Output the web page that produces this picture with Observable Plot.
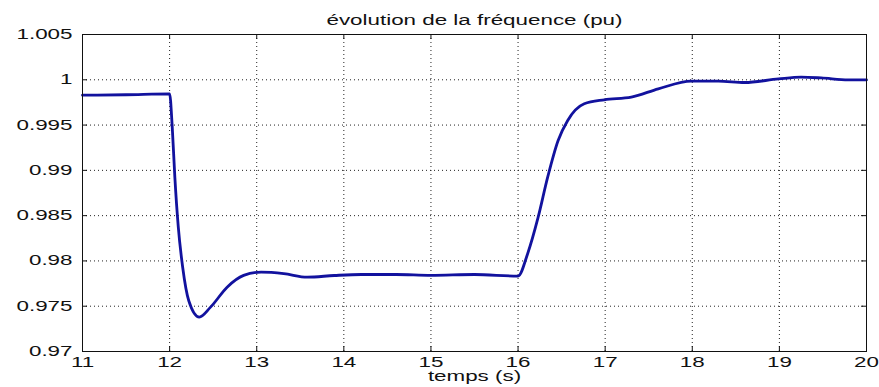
<!DOCTYPE html>
<html><head><meta charset="utf-8">
<script src="https://cdn.jsdelivr.net/npm/d3@7"></script>
<script src="https://cdn.jsdelivr.net/npm/@observablehq/plot@0.6"></script>
<style>body{margin:0;background:#fff} svg{display:block}</style>
</head><body><div id="chart"></div>
<script>
const title = "évolution de la fréquence (pu)";
const xLabel = "temps (s)";
const xTicks = [11, 12, 13, 14, 15, 16, 17, 18, 19, 20];
const xTickLabels = ["11", "12", "13", "14", "15", "16", "17", "18", "19", "20"];
const yTicks = [0.97, 0.975, 0.98, 0.985, 0.99, 0.995, 1, 1.005];
const yTickLabels = ["0.97", "0.975", "0.98", "0.985", "0.99", "0.995", "1", "1.005"];
const time = [11, 11.5, 12.0, 12.03, 12.06, 12.1, 12.15, 12.22, 12.34, 12.47, 12.66, 12.85, 13.05, 13.31, 13.58, 13.89, 14.2, 14.6, 15.0, 15.5, 16.0, 16.11, 16.23, 16.34, 16.46, 16.57, 16.76, 16.99, 17.3, 17.61, 17.99, 18.3, 18.6, 18.99, 19.25, 19.48, 19.79, 20];
const freq = [0.9983, 0.99835, 0.99845, 0.9948, 0.98925, 0.9837, 0.9793, 0.9756, 0.9738, 0.9749, 0.9771, 0.9784, 0.97876, 0.9786, 0.97821, 0.97839, 0.9785, 0.9785, 0.9784, 0.9785, 0.97833, 0.9808, 0.9848, 0.98925, 0.9933, 0.99551, 0.99735, 0.99779, 0.99808, 0.9990, 0.99985, 0.99985, 0.9997, 1.0001, 1.00029, 1.0002, 0.99999, 0.99999];
const data = time.map((t, i) => ({t, f: freq[i]}));

const W = 879, H = 387, mL = 82, mR = 13, mT = 34, mB = 36;
const fw = W - mL - mR, fh = H - mT - mB, tk = 5;
const xLab = new Map(xTicks.map((d, i) => [d, xTickLabels[i]]));
const yLab = new Map(yTicks.map((d, i) => [d, yTickLabels[i]]));

const chart = Plot.plot({
  width: W, height: H, marginLeft: mL, marginRight: mR, marginTop: mT, marginBottom: mB,
  style: {fontFamily: "'Liberation Sans', Arial, sans-serif", fontSize: "14px", color: "#111", background: "#fff"},
  x: {domain: [11, 20]},
  y: {domain: [0.97, 1.005]},
  marks: [
    Plot.gridX({ticks: xTicks.slice(1, -1), stroke: "#222", strokeOpacity: 1, strokeDasharray: "1,3"}),
    Plot.gridY({ticks: yTicks.slice(1, -1), stroke: "#222", strokeOpacity: 1, strokeDasharray: "1,3"}),
    Plot.tickX(xTicks, {x: d => d, insetTop: fh - tk, stroke: "#111"}),
    Plot.tickX(xTicks, {x: d => d, insetBottom: fh - tk, stroke: "#111"}),
    Plot.tickY(yTicks, {y: d => d, insetRight: fw - tk, stroke: "#111"}),
    Plot.tickY(yTicks, {y: d => d, insetLeft: fw - tk, stroke: "#111"}),
    Plot.line(data, {x: "t", y: "f", stroke: "#12129e", strokeWidth: 2.8, curve: "monotone-x"}),
    Plot.frame({stroke: "#111"}),
    Plot.axisX({ticks: xTicks, tickSize: 0, tickPadding: 6, tickFormat: d => xLab.get(d), label: null}),
    Plot.axisY({ticks: yTicks, tickSize: 0, tickPadding: 10, tickFormat: d => yLab.get(d), label: null}),
    Plot.text([title], {frameAnchor: "top", dy: -13.5, lineAnchor: "middle", fill: "#111"}),
    Plot.text([xLabel], {frameAnchor: "bottom", dy: 25.5, lineAnchor: "middle", fill: "#111"})
  ]
});

d3.select(chart).selectAll("text").each(function() {
  const t = this.getAttribute("transform") || "";
  this.setAttribute("transform", `${t} scale(1.6,1)`);
});
document.getElementById("chart").append(chart);
</script>
</body></html>
